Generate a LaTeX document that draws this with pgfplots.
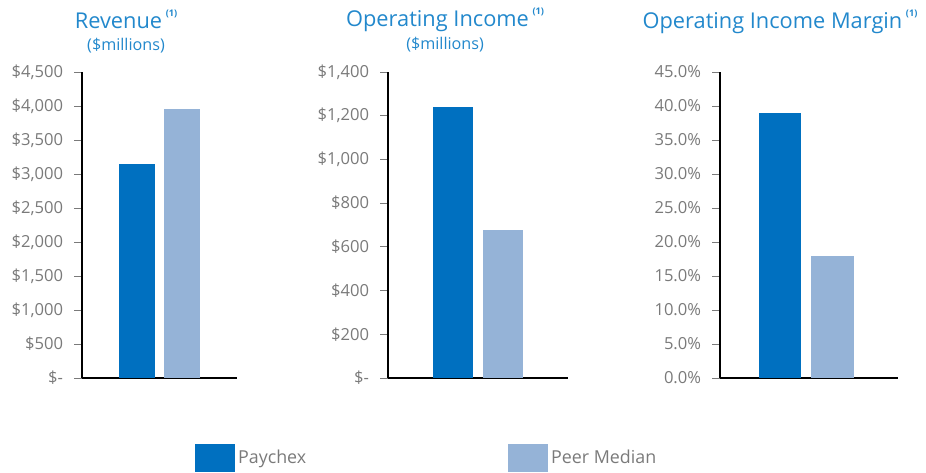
\documentclass[border=0pt]{standalone}
\usepackage{fontspec}
\setmainfont{Open Sans}
\usepackage{pgfplots}
\pgfplotsset{compat=1.18}
\definecolor{paychex}{HTML}{0070C0}
\definecolor{peer}{HTML}{95B3D7}
\definecolor{ttl}{HTML}{2288CC}
\definecolor{lbl}{HTML}{7A7A7A}

\pgfplotsset{
  every axis title/.style={anchor=base, align=center, text=ttl, inner sep=0pt},
  panel/.style={
    scale only axis, height=7.65cm, ymin=0,
    axis x line*=bottom, axis y line*=left,
    axis line style={black, line width=1.3pt},
    xtick=\empty, ytick align=outside, ytick pos=left,
    major tick length=0.2cm,
    every tick/.style={lbl, line width=0.6pt},
    tick label style={font=\fontsize{11.8}{14}\selectfont, text=lbl},
    yticklabel style={xshift=-0.15cm},
    /pgf/number format/assume math mode=true,
    legend style={draw=none, fill=none, inner sep=0pt, anchor=west,
      font=\fontsize{12.7}{15}\selectfont, text=lbl},
    anchor=south west,
  },
  box/.style={legend image code/.code={\fill[##1] (0cm,-0.35cm) rectangle (1.0cm,0.35cm);}},
}
\newcommand{\note}{\,\raisebox{0.55em}{\fontsize{6.5}{6.5}\selectfont\bfseries(1)}}
\newcommand{\mil}{\\[3pt]\fontsize{11.5}{15.6}\selectfont(\$millions)}

\begin{document}
\begin{tikzpicture}
\path[use as bounding box] (0,0) rectangle (23.15,11.8);

% revenue
\begin{axis}[panel, at={(2.05cm,2.35cm)}, width=3.875cm,
    xmin=-1.236, xmax=2.247, ymax=4500,
    ytick={0,500,...,4500},
    yticklabels={\$-\hspace{0.2cm}, \$500, \$1{,}000, \$1{,}500, \$2{,}000, \$2{,}500, \$3{,}000, \$3{,}500, \$4{,}000, \$4{,}500},
    title={\fontsize{15.5}{18}\selectfont Revenue\note\mil},
    title style={at={(0.284,1.0719)}},
    legend style={at={(0.729,-0.2614)}}]
\addplot[ybar, bar width=0.9cm, fill=paychex, draw=none, box] coordinates {(0,3150)};
\addlegendentry{Paychex}
\addplot[ybar, bar width=0.9cm, fill=peer, draw=none, forget plot] coordinates {(1,3950)};
\end{axis}

% operating income
\begin{axis}[panel, at={(9.7cm,2.35cm)}, width=4.5cm,
    xmin=-1.3, xmax=2.3, ymax=1400,
    ytick={0,200,...,1400},
    yticklabels={\$-\hspace{0.2cm}, \$200, \$400, \$600, \$800, \$1{,}000, \$1{,}200, \$1{,}400},
    title={\fontsize{15.5}{18}\selectfont Operating Income\note\mil},
    title style={at={(0.317,1.0719)}},
    legend style={at={(0.667,-0.2614)}}]
\addplot[ybar, bar width=1.0cm, fill=paychex, draw=none, forget plot] coordinates {(0,1240)};
\addplot[ybar, bar width=1.0cm, fill=peer, draw=none, box] coordinates {(1,675)};
\addlegendentry{Peer Median}
\end{axis}

% operating income margin
\begin{axis}[panel, at={(18.0cm,2.35cm)}, width=4.45cm,
    xmin=-1.143, xmax=2.248, ymax=45,
    ytick={0,5,...,45},
    yticklabel={\pgfmathprintnumber[fixed,fixed zerofill,precision=1]{\tick}\%},
    title={\fontsize{15.5}{18}\selectfont Operating Income Margin\note},
    title style={at={(0.337,1.1438)}}]
\addplot[ybar, bar width=1.05cm, fill=paychex, draw=none] coordinates {(0,38.9)};
\addplot[ybar, bar width=1.05cm, fill=peer, draw=none] coordinates {(1,18.0)};
\end{axis}
\end{tikzpicture}
\end{document}
